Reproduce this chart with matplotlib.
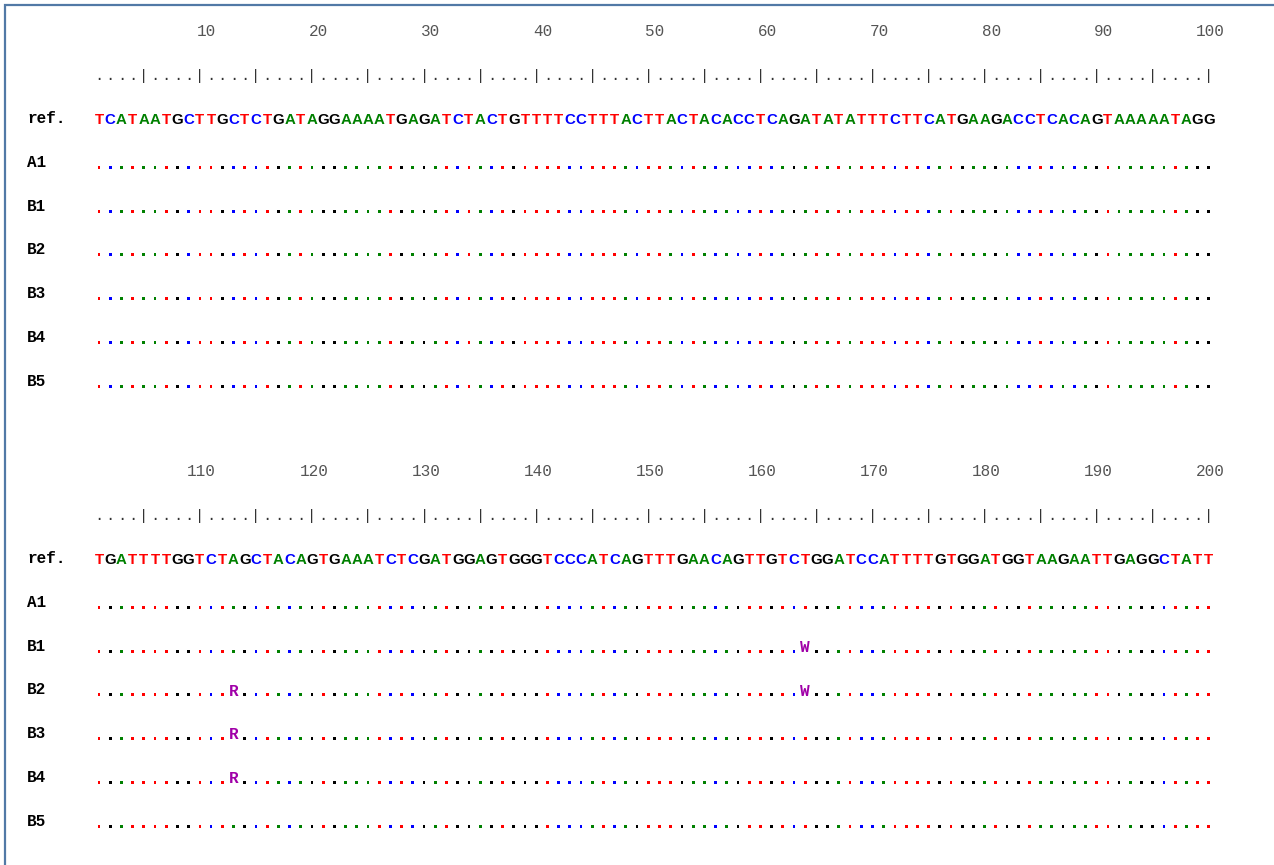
import matplotlib
matplotlib.use('Agg')
import matplotlib.pyplot as plt
from matplotlib.patches import Rectangle

# reference sequence, two blocks of 100 bases
ref_block1 = "TCATAATGCTTGCTCTGATAGGAAAATGAGATCTACTGTTTTCCTTTACTTACTACACCTCAGATATATTTCTTCATGAAGACCTCACAGTAAAAATAGG"
ref_block2 = "TGATTTTGGTCTAGCTACAGTGAAATCTCGATGGAGTGGGTCCCATCAGTTTGAACAGTTGTCTGGATCCATTTTGTGGATGGTAAGAATTGAGGCTATT"
samples = ["A1", "B1", "B2", "B3", "B4", "B5"]

# IUPAC calls that differ from the reference
var_sample = ["B1", "B2", "B2", "B3", "B4"]
var_pos = [164, 113, 164, 113, 113]
var_code = ["W", "R", "W", "R", "R"]

base_col = {"T": "#ff0000", "C": "#0000ff", "A": "#008000", "G": "#000000"}
var_col = "#a000a8"

W, H = 1274, 865
fig = plt.figure(figsize=(W / 100, H / 100), dpi=100)
ax = fig.add_axes([0, 0, 1, 1])
# x in alignment columns (1..100), y in pixels from the top
px0, step = 99.0, 11.21
ax.set_xlim(1 - px0 / step, 1 + (W - px0) / step)
ax.set_ylim(H, 0)
ax.axis('off')

# frame
fig.patches.append(Rectangle((5 / W, -0.1), 1.2, 1.1 - 5 / H, transform=fig.transFigure,
                             fill=False, edgecolor='#5179a6', linewidth=1.6))

row_h = 43.8
block_top = [31, 471]
label_x = 1 - (px0 - 27) / step

mono = 'Liberation Mono'
seqfont = 'Liberation Sans'

for b, ref in enumerate([ref_block1, ref_block2]):
    offset = b * 100
    y0 = block_top[b]

    # position numbers
    for k in range(1, 11):
        ax.text(10 * k + 1.45, y0, str(offset + 10 * k), ha='right', va='center',
                family=mono, fontsize=11.5, color='#555555')

    # ruler
    yr = y0 + row_h
    for i in range(1, 101):
        ch = '|' if i % 5 == 0 else '.'
        ax.text(i, yr + 5, ch, ha='center', va='baseline', family=mono,
                fontsize=11, color='#333333')

    # reference row
    yref = y0 + 2 * row_h
    ax.text(label_x, yref, 'ref.', ha='left', va='center', family=mono,
            fontweight='bold', fontsize=11.5, color='black')
    for i, base in enumerate(ref, start=1):
        ax.text(i, yref + 5.5, base, ha='center', va='baseline', family=seqfont,
                fontweight='bold', fontsize=10.8, color=base_col[base])

    # sample rows
    for r, s in enumerate(samples):
        ys = y0 + (3 + r) * row_h
        ax.text(label_x, ys, s, ha='left', va='center', family=mono,
                fontweight='bold', fontsize=11.5, color='black')
        calls = {p - offset: c for ss, p, c in zip(var_sample, var_pos, var_code)
                 if ss == s and offset < p <= offset + 100}
        xs, cs = [], []
        for i, base in enumerate(ref, start=1):
            if i in calls:
                ax.text(i, ys + 5.5, calls[i], ha='center', va='baseline',
                        family=mono, fontweight='bold', fontsize=11.5, color=var_col)
            else:
                xs.append(i)
                cs.append(base_col[base])
        ydot = round(ys + 4.5) + 0.5
        ax.scatter(xs, [ydot] * len(xs), s=4, marker='s', c=cs, linewidths=0)

fig.savefig('out.png', dpi=100, facecolor='white')
